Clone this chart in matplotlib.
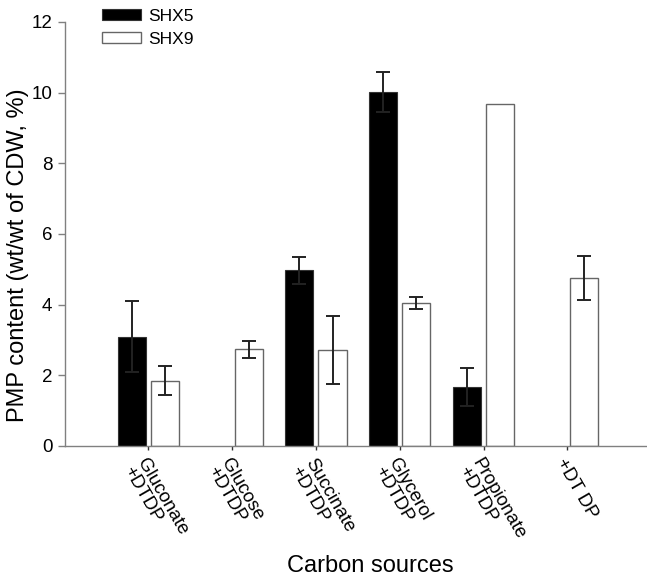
import numpy as np
import matplotlib
matplotlib.use("Agg")
import matplotlib.pyplot as plt

plt.rcParams['font.family'] = ['Liberation Sans', 'DejaVu Sans']

# data
labels = ["Gluconate\n+DTDP", "Glucose\n+DTDP", "Succinate\n+DTDP",
          "Glycerol\n+DTDP", "Propionate\n+DTDP", "+DT DP"]
shx5 = [3.09, np.nan, 4.97, 10.02, 1.66, np.nan]
shx5_err = [1.0, np.nan, 0.39, 0.56, 0.54, np.nan]
shx9 = [1.85, 2.74, 2.71, 4.06, 9.67, 4.76]
shx9_err = [0.41, 0.24, 0.96, 0.17, np.nan, 0.63]

fig = plt.figure(figsize=(6.47, 5.76), dpi=100)
ax = fig.add_axes([65/647, 1-446/576, 1-65/647, 424/576])

x = np.arange(len(labels))
w = 0.335
off = 0.198
grey = '#808080'

ax.bar(x - off, shx5, w, color='black', edgecolor='#333333', linewidth=0.8, label='SHX5')
ax.bar(x + off, shx9, w, color='white', edgecolor='#666666', linewidth=1.0, label='SHX9')
ax.errorbar(x - off, shx5, yerr=shx5_err, fmt='none', ecolor='#222222',
            elinewidth=1.4, capsize=4.7, capthick=1.4)
ax.errorbar(x + off, shx9, yerr=shx9_err, fmt='none', ecolor='#222222',
            elinewidth=1.4, capsize=4.7, capthick=1.4)

ax.set_xlim(-0.994, 5.95)
ax.set_ylim(0, 12)
ax.set_yticks(np.arange(0, 13, 2))
ax.set_xticks(x)
ax.set_xticklabels(labels, rotation=-60, ha='left', va='top',
                   rotation_mode='anchor', fontsize=13.5, linespacing=0.95)
ax.tick_params(axis='y', labelsize=13.5, length=5, width=1, color=grey, pad=4)
ax.tick_params(axis='x', length=3, width=1, color='#333333', pad=4)

for s in ['top', 'right']:
    ax.spines[s].set_visible(False)
for s in ['left', 'bottom']:
    ax.spines[s].set_color(grey)
    ax.spines[s].set_linewidth(1)

ax.set_ylabel('PMP content (wt/wt of CDW, %)', fontsize=17, va='center')
ax.yaxis.set_label_coords(-0.081, 0.45)
ax.set_xlabel('Carbon sources', fontsize=17, va='baseline')
ax.xaxis.set_label_coords(0.524, -0.297)

ax.legend(loc='upper left', bbox_to_anchor=(102/647, 1-9/576),
          bbox_transform=fig.transFigure, frameon=False, fontsize=12.5,
          handlelength=2.25, handleheight=0.6, handletextpad=0.4,
          labelspacing=0.45, borderpad=0, borderaxespad=0)

fig.savefig('out.png', dpi=100)
